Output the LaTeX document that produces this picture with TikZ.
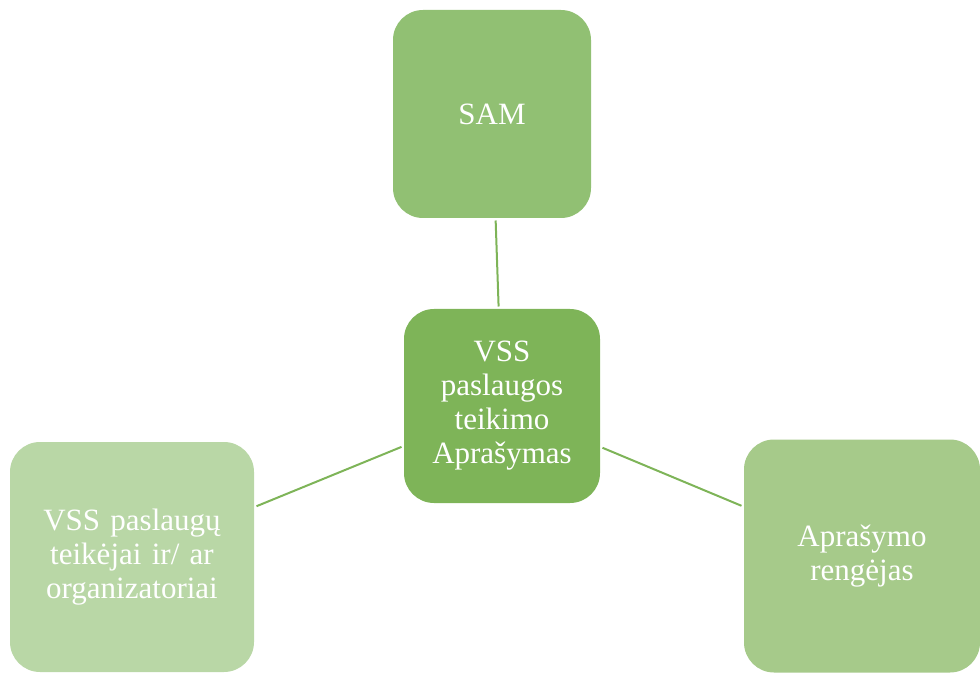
\documentclass[tikz,border=0pt]{standalone}
\usepackage{fontspec}
\setmainfont{Liberation Serif}
\definecolor{cSam}{HTML}{91C073}
\definecolor{cMid}{HTML}{7EB458}
\definecolor{cLeft}{HTML}{B9D7A6}
\definecolor{cRight}{HTML}{A6CA8A}
\definecolor{cLine}{HTML}{7EB458}
\begin{document}
\begin{tikzpicture}[x=1pt,y=1pt,
  box/.style={rectangle, rounded corners=30pt, draw=none, text=white, align=center,
    inner sep=0pt, outer sep=2.5pt,
    font=\fontsize{31}{34}\selectfont},
  link/.style={draw=cLine, line width=2pt}]
\useasboundingbox (0,0) rectangle (980,673);
\node[box, fill=cSam, minimum width=198pt, minimum height=208pt] (sam) at (492,559) {SAM};
\node[box, fill=cMid, minimum width=196pt, minimum height=194pt] (mid) at (502,267) {VSS\\paslaugos\\teikimo\\Aprašymas};
\node[box, fill=cLeft, minimum width=244pt, minimum height=230pt, text width=230pt] (left) at (132,116) {VSS paslaugų\\teikėjai ir/ ar\\organizatoriai};
\node[box, fill=cRight, minimum width=236pt, minimum height=233pt, text width=220pt] (right) at (862,117) {Aprašymo\\rengėjas};
\draw[link] (sam) -- (mid);
\draw[link] (mid) -- (left);
\draw[link] (mid) -- (right);
\end{tikzpicture}
\end{document}
